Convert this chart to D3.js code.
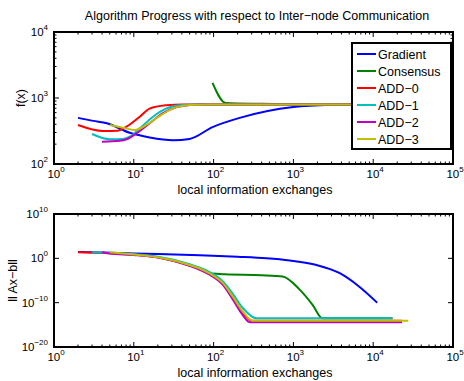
<!DOCTYPE html>
<html>
<head>
<meta charset="utf-8">
<script src="https://cdn.jsdelivr.net/npm/d3@7"></script>
<style>
body { margin: 0; background: #fff; }
text { font-family: "Liberation Sans", Arial, Helvetica, sans-serif; }
</style>
</head>
<body>
<svg id="chart" width="464" height="381"></svg>
<script>
// series names, legend order
var categories = ["Gradient", "Consensus", "ADD-0", "ADD-1", "ADD-2", "ADD-3"];

// top panel: f(x) against exchanges, [x, f]
var fGradient = [[2,500],[3.1,450],[4.6,415],[8.9,297],[15.8,253],[31,230],[50,240],[97,363],[212,500],[1000,730],[3200,790],[6000,800],[11000,800]];
var fConsensus = [[97,1690],[141,840],[400,815],[2000,800],[17500,800]];
var fAdd0 = [[2,390],[4.1,316],[6.3,320],[8.1,367],[11.9,521],[15.8,690],[25.7,776],[41,800],[23000,800]];
var fAdd1 = [[3,285],[5,237],[7.3,240],[8.9,259],[11.9,347],[17.4,521],[25.7,695],[37.6,776],[55,800],[17300,800]];
var fAdd2 = [[4,218],[6.7,225],[8.1,237],[10.8,292],[15.8,414],[23.2,589],[34,725],[50,783],[70,800],[23000,800]];
var fAdd3 = [[5,390],[7.3,355],[10.3,327],[14.4,390],[21,533],[31,698],[50,783],[80,800],[27500,800]];

// bottom panel: log10 of ||Ax-b|| against exchanges, [x, exponent]
var rGradient = [[2,1.45],[10,1.1],[67,0.7],[200,0.35],[460,0.0],[900,-0.5],[1950,-1.5],[3760,-3.3],[6700,-6.4],[11200,-10]];
var rConsensus = [[97,-3.4],[140,-3.6],[400,-3.8],[735,-4.1],[1190,-7.0],[1740,-10.5],[2300,-13.5],[17500,-13.5]];
var rAdd0 = [[2,1.4],[5,1.15],[10,0.8],[21,0.15],[50,-1.6],[67,-2.4],[89,-3.5],[131,-5.8],[174,-8.9],[232,-12.3],[302,-14.1],[23000,-14.1]];
var rAdd1 = [[3,1.4],[5,1.2],[10,0.9],[21,0.3],[50,-1.3],[67,-2.1],[89,-3.1],[131,-5.2],[174,-8.0],[232,-11.2],[345,-13.5],[17300,-13.5]];
var rAdd2 = [[4,1.35],[5,1.1],[10,0.75],[21,0.1],[50,-1.7],[67,-2.6],[89,-3.7],[131,-6.0],[174,-9.3],[232,-12.8],[282,-14.4],[23000,-14.4]];
var rAdd3 = [[5,1.35],[10,0.85],[21,0.2],[50,-1.5],[67,-2.3],[89,-3.4],[131,-5.6],[174,-8.65],[232,-12.0],[309,-14.1],[27500,-14.1]];

var xTicks = [1, 10, 100, 1000, 10000, 100000];
var xTickExp = ["0", "1", "2", "3", "4", "5"];
var fTicks = [100, 1000, 10000];
var fTickExp = ["2", "3", "4"];
var rTicks = [1e-20, 1e-10, 1, 1e10];
var rTickExp = ["\u221220", "\u221210", "0", "10"];

var colors = ["#0000ff", "#008000", "#ff0000", "#00bfbf", "#bf00bf", "#bfbf00"];

var svg = d3.select("#chart");

function tickLabel(g, x, y, exp, anchor) {
    var t = g.append("text")
        .attr("x", x).attr("y", y)
        .attr("text-anchor", anchor)
        .attr("font-size", 11.5);
    t.append("tspan").text("10");
    t.append("tspan").attr("dy", -6).attr("font-size", 8).text(exp);
}

function panel(top, bottom, yDomain, yTicks, yExp, yMinor, series, yLabel) {
    var x = d3.scaleLog().domain([1, 1e5]).range([54, 453]);
    var y = d3.scaleLog().domain(yDomain).range([bottom, top]);
    var g = svg.append("g");

    var line = d3.line()
        .x(function (d) { return x(d[0]); })
        .y(function (d) { return y(d[1]); })
        .curve(d3.curveMonotoneX);

    g.selectAll("path.series")
        .data(series)
        .enter().append("path")
        .attr("class", "series")
        .attr("d", line)
        .attr("fill", "none")
        .attr("stroke", function (d, i) { return colors[i]; })
        .attr("stroke-width", 2);

    // ticks, inward, on all four sides
    var minorX = [];
    xTicks.slice(0, -1).forEach(function (t) {
        for (var k = 2; k < 10; k++) minorX.push(t * k);
    });
    var tk = g.append("g").attr("stroke", "#000").attr("stroke-width", 1);
    xTicks.forEach(function (t) {
        tk.append("line").attr("x1", x(t)).attr("x2", x(t)).attr("y1", bottom).attr("y2", bottom - 5);
        tk.append("line").attr("x1", x(t)).attr("x2", x(t)).attr("y1", top).attr("y2", top + 5);
    });
    minorX.forEach(function (t) {
        tk.append("line").attr("x1", x(t)).attr("x2", x(t)).attr("y1", bottom).attr("y2", bottom - 2.5);
        tk.append("line").attr("x1", x(t)).attr("x2", x(t)).attr("y1", top).attr("y2", top + 2.5);
    });
    yTicks.forEach(function (t) {
        tk.append("line").attr("x1", 54).attr("x2", 59).attr("y1", y(t)).attr("y2", y(t));
        tk.append("line").attr("x1", 453).attr("x2", 448).attr("y1", y(t)).attr("y2", y(t));
    });
    if (yMinor) {
        yTicks.slice(0, -1).forEach(function (t) {
            for (var k = 2; k < 10; k++) {
                tk.append("line").attr("x1", 54).attr("x2", 56.5).attr("y1", y(t * k)).attr("y2", y(t * k));
                tk.append("line").attr("x1", 453).attr("x2", 450.5).attr("y1", y(t * k)).attr("y2", y(t * k));
            }
        });
    }

    g.append("rect")
        .attr("x", 54).attr("y", top)
        .attr("width", 453 - 54).attr("height", bottom - top)
        .attr("fill", "none").attr("stroke", "#000").attr("stroke-width", 2);

    xTicks.forEach(function (t, i) {
        tickLabel(g, x(t) + 2, bottom + 14, xTickExp[i], "middle");
    });
    yTicks.forEach(function (t, i) {
        tickLabel(g, 48, y(t) + 4, yExp[i], "end");
    });

    g.append("text")
        .attr("x", 255).attr("y", bottom + 30)
        .attr("text-anchor", "middle").attr("font-size", 12.5)
        .text("local information exchanges");

    g.append("text")
        .attr("transform", "translate(" + (yLabel.x) + "," + ((top + bottom) / 2) + ") rotate(-90)")
        .attr("text-anchor", "middle").attr("font-size", 12.5)
        .text(yLabel.text);

    return g;
}

var toResidual = function (s) {
    return s.map(function (d) { return [d[0], Math.pow(10, d[1])]; });
};

var topG = panel(32, 164, [100, 10000], fTicks, fTickExp, true,
    [fGradient, fConsensus, fAdd0, fAdd1, fAdd2, fAdd3], {x: 25, text: "f(x)"});

panel(214, 347, [1e-20, 1e10], rTicks, rTickExp, false,
    [rGradient, rConsensus, rAdd0, rAdd1, rAdd2, rAdd3].map(toResidual), {x: 17, text: "ll Ax\u2212bll"});

svg.append("text")
    .attr("x", 257).attr("y", 20)
    .attr("text-anchor", "middle").attr("font-size", 12.5)
    .text("Algorithm Progress with respect to Inter\u2212node Communication");

// legend
var legend = svg.append("g");
legend.append("rect")
    .attr("x", 352).attr("y", 43).attr("width", 99).attr("height", 106)
    .attr("fill", "#fff").attr("stroke", "#000").attr("stroke-width", 2);
categories.forEach(function (name, i) {
    var ly = 54 + i * 17;
    legend.append("line")
        .attr("x1", 357).attr("x2", 376).attr("y1", ly).attr("y2", ly)
        .attr("stroke", colors[i]).attr("stroke-width", 2);
    legend.append("text")
        .attr("x", 378).attr("y", ly + 4.5).attr("font-size", 12.5)
        .text(name.replace("-", "\u2212"));
});
</script>
</body>
</html>
